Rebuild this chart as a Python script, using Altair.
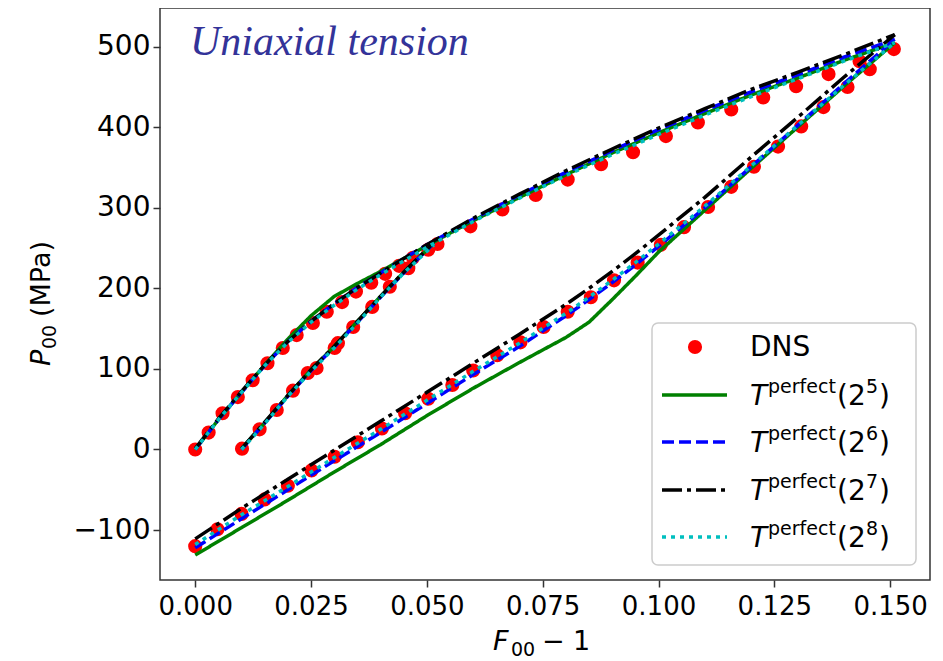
import altair as alt
import pandas as pd

# ---------------- DNS data ----------------
dns_x = [0.0, 0.0029, 0.0059, 0.0092, 0.0124, 0.0156, 0.0189, 0.0219, 0.0254, 0.0284,
         0.0317, 0.0347, 0.0380, 0.0410, 0.0440, 0.0470, 0.0503, 0.0523, 0.0594, 0.0663,
         0.0735, 0.0804, 0.0876, 0.0945, 0.1016, 0.1085, 0.1157, 0.1226, 0.1297, 0.1367,
         0.1434, 0.1508,
         0.0101, 0.0139, 0.0176, 0.0211, 0.0243, 0.0262, 0.0301, 0.0308, 0.0341, 0.0382,
         0.0420, 0.0460,
         0.0, 0.0048, 0.0100, 0.0150, 0.0200, 0.0251, 0.0301, 0.0351, 0.0403, 0.0453,
         0.0503, 0.0555, 0.0600, 0.0652, 0.0702, 0.0752, 0.0804, 0.0854, 0.0904, 0.0955,
         0.1005, 0.1055, 0.1107, 0.1157, 0.1206, 0.1258, 0.1308, 0.1356, 0.1408, 0.1456]
dns_y = [0, 21, 45, 65, 86, 107, 126, 142, 157, 171,
         183, 196, 207, 218, 228, 238, 248, 255, 277, 298,
         316, 335, 354, 369, 389, 406, 422, 437, 451, 466,
         482, 497,
         1, 25, 49, 73, 95, 101, 126, 132, 152, 177,
         202, 225,
         -120, -99, -80, -62, -45, -26, -9, 9, 26, 45,
         63, 80, 98, 117, 133, 152, 171, 189, 210, 232,
         254, 276, 301, 326, 351, 376, 401, 425, 450, 472]

# ---------------- model curves ----------------
# branch A: upper loading curve from (0, 0)
a_x = [0, 0.005, 0.01, 0.015, 0.02, 0.025, 0.03, 0.035, 0.04, 0.045, 0.05,
       0.06, 0.07, 0.08, 0.09, 0.10, 0.11, 0.12, 0.13, 0.14, 0.151]
# branch B: second loading curve from (0.01, 0)
b_x = [0.01, 0.015, 0.02, 0.025, 0.03, 0.035, 0.04, 0.045, 0.0515]
# branch C: lower curve from (0, -120)
c_x = [0, 0.01, 0.02, 0.03, 0.04, 0.05, 0.06, 0.07, 0.08, 0.085, 0.09, 0.095,
       0.10, 0.11, 0.12, 0.13, 0.14, 0.151]

t5_a = [0, 37, 71, 105, 137, 166, 190, 206, 221, 237, 253, 284, 313, 341, 368, 393, 417, 440, 461, 483, 505]
t6_a = [0, 37, 71, 104, 134, 159, 181, 201, 219, 237, 254, 286, 316, 344, 371, 397, 421, 444, 465, 487, 509]
t7_a = [1, 38, 72, 105, 134, 159, 181, 201, 219, 237, 254, 287, 317, 346, 373, 399, 423, 447, 468, 490, 515]
t8_a = [0, 37, 71, 104, 133, 158, 179, 199, 217, 234, 251, 283, 312, 340, 366, 391, 415, 438, 460, 482, 505]

t5_b = [1, 33, 67, 99, 128, 159, 190, 220, 256]
t6_b = [0, 33, 66, 98, 127, 158, 189, 219, 256]
t7_b = [1, 34, 67, 99, 128, 159, 190, 220, 257]
t8_b = [0, 32, 66, 97, 126, 157, 189, 219, 254]

t5_c = [-131, -97, -63, -28, 6, 42, 76, 108, 139, 158, 186, 215, 245, 297, 349, 400, 451, 505]
t6_c = [-122, -86, -50, -14, 21, 57, 93, 128, 166, 186, 207, 229, 252, 300, 351, 402, 454, 509]
t7_c = [-111, -73, -37, -1, 35, 71, 107, 143, 180, 200, 221, 243, 266, 313, 363, 412, 462, 515]
t8_c = [-118, -81, -46, -10, 25, 61, 97, 132, 169, 189, 210, 232, 255, 302, 352, 402, 452, 505]

models = ["5", "6", "7", "8"]
model_colors = ["#008000", "#0000ff", "#000000", "#00bfbf"]
model_dashes = [[1, 0], [12, 5], [20, 5, 4, 5], [4, 5]]
model_curves = {
    "5": (t5_a, t5_b, t5_c),
    "6": (t6_a, t6_b, t6_c),
    "7": (t7_a, t7_b, t7_c),
    "8": (t8_a, t8_b, t8_c),
}

x_ticks = [0.0, 0.025, 0.05, 0.075, 0.1, 0.125, 0.15]
y_ticks = [-100, 0, 100, 200, 300, 400, 500]

W, H = 770, 572
xs = alt.Scale(domain=[-0.0076, 0.1586], nice=False, zero=False)
ys = alt.Scale(domain=[-162, 548], nice=False, zero=False)

x_enc = alt.X("x:Q", scale=xs,
              axis=alt.Axis(values=x_ticks, format=".3f", title=None,
                            labelFontSize=26, labelPadding=6))
y_enc = alt.Y("y:Q", scale=ys,
              axis=alt.Axis(values=y_ticks, format="d", title=None,
                            labelFontSize=28, labelPadding=3))

dns_df = pd.DataFrame({"x": dns_x, "y": dns_y})
layers = [
    alt.Chart(dns_df).mark_circle(color="#ff0000", size=200, opacity=1).encode(x=x_enc, y=y_enc)
]

for m, col, dash in zip(models, model_colors, model_dashes):
    a, b, c = model_curves[m]
    df = pd.DataFrame({
        "x": a_x + b_x + c_x,
        "y": a + b + c,
        "branch": ["A"] * len(a_x) + ["B"] * len(b_x) + ["C"] * len(c_x),
    })
    layers.append(
        alt.Chart(df).mark_line(color=col, strokeDash=dash, strokeWidth=3.5).encode(
            x=x_enc, y=y_enc, detail="branch:N")
    )

one = pd.DataFrame({"k": [0]})


def txt(text, px, py, fs, style="normal", angle=0, align="left", baseline="alphabetic",
        font="DejaVu Sans", color="black"):
    return alt.Chart(one).mark_text(
        text=text, font=font, fontSize=fs, fontStyle=style, angle=angle,
        align=align, baseline=baseline, color=color).encode(x=alt.value(px), y=alt.value(py))


# title inside the plot
layers.append(txt("Uniaxial tension", 30, 47, 42, style="italic", font="Liberation Serif",
                  color="#333399"))

# x-axis title: F_00 - 1
layers.append(txt("F", 333, 642, 27, style="italic"))
layers.append(txt("00", 351, 648, 19))
layers.append(txt("−", 382, 642, 27))
layers.append(txt("1", 413, 642, 27))

# y-axis title: P_00 (MPa), rotated
layers.append(txt("P", -110, 358, 27, style="italic", angle=270))
layers.append(txt("00", -104, 341, 19, angle=270))
layers.append(txt("(MPa)", -110, 309, 27, angle=270))

# legend box
layers.append(
    alt.Chart(one).mark_rect(fill="white", fillOpacity=0.85, stroke="#cccccc", strokeWidth=1.5,
                             cornerRadius=6).encode(
        x=alt.value(492), x2=alt.value(756), y=alt.value(315), y2=alt.value(557))
)
row_y = [339, 387, 434, 482, 529]
layers.append(
    alt.Chart(one).mark_circle(color="#ff0000", size=200, opacity=1).encode(
        x=alt.value(535), y=alt.value(row_y[0]))
)
layers.append(txt("DNS", 590, row_y[0] + 1, 28, baseline="middle"))
for i, (m, col, dash) in enumerate(zip(models, model_colors, model_dashes)):
    ry = row_y[i + 1]
    layers.append(
        alt.Chart(one).mark_rule(color=col, strokeDash=dash, strokeWidth=3.5).encode(
            x=alt.value(502), x2=alt.value(567), y=alt.value(ry))
    )
    pieces = [
        ("T", 590, 0, 28, "italic"),
        ("perfect", 608, -10, 19, "normal"),
        ("(2", 677, 0, 28, "normal"),
        (m, 706, -10, 19, "normal"),
        (")", 719, 0, 28, "normal"),
    ]
    for t, px, dy, fs, style in pieces:
        layers.append(txt(t, px, ry + 2 + dy, fs, style=style, baseline="middle"))

chart = alt.layer(*layers).properties(
    width=W, height=H,
    autosize=alt.AutoSizeParams(type="none"),
    padding={"left": 152, "top": 0, "right": 5, "bottom": 81},
).configure_view(
    stroke="#333333", strokeWidth=1.5
).configure_axis(
    grid=False, domain=False,
    tickSize=7, tickWidth=1.5, tickColor="#333333",
    labelFont="DejaVu Sans", labelColor="black",
)

chart.save("out.html", embed_options={"renderer": "svg", "actions": False})
